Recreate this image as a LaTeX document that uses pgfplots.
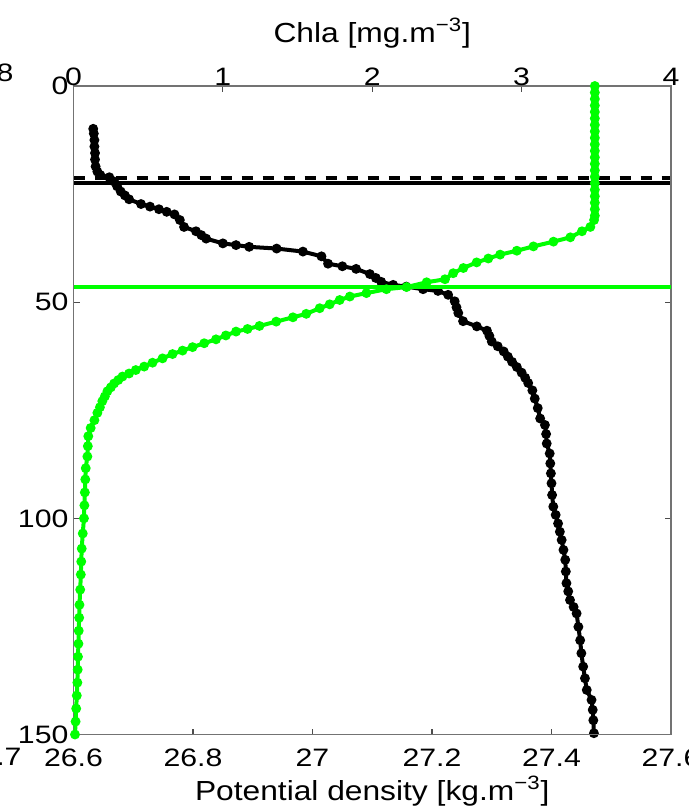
\documentclass[border=0pt]{standalone}
\usepackage{fontspec}
\setmainfont[FakeStretch=1.15]{Liberation Sans}
\newfontfamily\tickfont[FakeStretch=1.2]{Liberation Sans}
\usepackage{pgfplots}
\usepackage{pgfplotstable}
\pgfplotsset{compat=1.18}
\definecolor{mgreen}{RGB}{0,255,0}

\pgfplotstableread{
depth rho
9.9 26.633
11.0 26.634
12.5 26.635
14.0 26.635
15.5 26.636
17.0 26.636
18.6 26.637
19.8 26.640
20.6 26.645
21.1 26.660
22.1 26.668
23.2 26.673
24.4 26.679
25.3 26.686
26.2 26.693
27.3 26.713
27.9 26.728
28.5 26.743
29.1 26.756
29.7 26.769
31.0 26.778
32.6 26.785
33.6 26.805
34.5 26.814
35.3 26.822
36.4 26.850
36.8 26.872
37.2 26.894
37.6 26.940
38.3 26.984
39.4 27.015
41.1 27.026
41.7 27.050
42.3 27.073
43.5 27.096
44.4 27.106
45.3 27.115
46.0 27.135
46.4 27.157
47.0 27.185
47.4 27.210
48.3 27.227
49.8 27.238
51.2 27.241
52.5 27.244
54.4 27.252
55.6 27.275
56.6 27.292
57.8 27.296
59.1 27.300
60.2 27.310
61.4 27.320
62.6 27.327
63.8 27.334
65.0 27.342
66.3 27.350
67.5 27.356
68.7 27.361
70.4 27.368
72.3 27.372
74.5 27.377
76.9 27.381
78.4 27.389
80.5 27.391
82.7 27.392
85.0 27.397
87.3 27.398
89.6 27.399
91.9 27.400
94.6 27.401
97.3 27.403
99.2 27.407
101.2 27.411
103.1 27.414
105.0 27.417
107.3 27.420
109.6 27.423
112.3 27.424
115.0 27.425
116.9 27.428
118.9 27.431
120.5 27.437
122.0 27.442
125.1 27.445
128.2 27.448
131.2 27.450
134.3 27.453
137.0 27.456
139.7 27.459
142.0 27.467
144.3 27.469
146.7 27.470
149.7 27.471
}\rhotab

\pgfplotstableread{
depth chla
0.0 3.49
1.5 3.49
3.0 3.49
4.5 3.49
6.0 3.49
7.5 3.49
9.0 3.49
10.5 3.49
12.0 3.49
13.5 3.49
15.0 3.49
16.5 3.49
18.0 3.49
19.5 3.49
21.0 3.49
22.5 3.49
24.0 3.49
25.5 3.49
27.0 3.49
28.5 3.49
30.0 3.49
31.0 3.485
32.6 3.46
33.6 3.404
35.0 3.326
36.0 3.213
37.1 3.079
38.1 2.968
39.0 2.856
39.9 2.777
40.8 2.699
42.1 2.610
43.3 2.542
44.7 2.487
45.4 2.364
46.5 2.230
47.0 2.095
47.9 1.961
48.7 1.850
49.5 1.782
50.5 1.715
51.4 1.648
52.7 1.558
53.5 1.469
54.5 1.357
55.5 1.245
56.2 1.165
56.8 1.088
57.7 1.020
58.6 0.954
59.5 0.875
60.4 0.797
61.2 0.730
62.0 0.663
63.0 0.596
64.0 0.529
64.9 0.473
65.7 0.417
66.5 0.372
67.2 0.328
68.0 0.300
68.8 0.272
69.7 0.250
70.6 0.227
71.8 0.210
72.9 0.193
74.3 0.177
75.6 0.160
77.3 0.140
79.1 0.115
81.0 0.099
83.3 0.096
85.7 0.093
88.4 0.082
91.0 0.079
94.0 0.076
97.0 0.073
100.0 0.070
103.5 0.062
107.0 0.055
110.0 0.052
113.0 0.049
116.5 0.045
120.0 0.040
123.0 0.038
126.0 0.035
129.0 0.033
132.0 0.030
135.0 0.028
138.0 0.026
141.0 0.022
144.0 0.018
147.0 0.014
150.0 0.010
}\chltab

\begin{document}
\begin{tikzpicture}
\pgfplotsset{
  common/.style={
    width=298.75pt, height=324.25pt, scale only axis,
    y dir=reverse, ymin=0, ymax=150,
    axis line style={black!55, line width=0.6pt},
    tick style={black!70, line width=0.6pt},
    major tick length=3pt,
    tick align=inside,
    ticklabel style={font=\tickfont\fontsize{12.6}{14}\selectfont},
    label style={font=\fontsize{13.8}{16}\selectfont},
    /pgf/number format/assume math mode=true,
  }
}
\begin{axis}[common, name=ax,
  xmin=26.6, xmax=27.6,
  xtick={26.6,26.8,27,27.2,27.4,27.6},
  xticklabels={26.6,26.8,27,27.2,27.4,27.6},
  xtick pos=lower, xticklabel pos=lower,
  ytick={0,50,100,150}, yticklabels={0,50,100,150},
  ytick pos=both, yticklabel pos=left,
  xticklabel style={yshift=-3.6pt},
  yticklabel style={xshift=1pt},
  xlabel={Potential density [kg.m\textsuperscript{\char"2212 3}]},
  xlabel style={at={(axis description cs:0.5,0)}, anchor=base, yshift=-32.75pt},
]
\addplot[black, line width=1.8pt, dash pattern=on 5.5pt off 5pt, forget plot] coordinates {(26.6,21.3) (27.6,21.3)};
\addplot[black, line width=1.8pt, forget plot] coordinates {(26.6,22.5) (27.6,22.5)};
\addplot[black, line width=2pt, mark=*, mark size=1.4pt, mark options={fill=black}] table[x=rho, y=depth] {\rhotab};
\end{axis}
\begin{axis}[common,
  xmin=0, xmax=4,
  xtick={0,1,2,3,4}, xticklabels={0,1,2,3,4},
  xtick pos=upper, xticklabel pos=upper,
  ytick=\empty,
  xticklabel style={yshift=-3.3pt},
  xlabel={Chla [mg.m\textsuperscript{\char"2212 3}]},
  xlabel style={at={(axis description cs:0.5,1)}, anchor=base, yshift=22pt},
]
\addplot[mgreen, line width=1.85pt, forget plot] coordinates {(0,46.5) (4,46.5)};
\addplot[mgreen, line width=2pt, mark=*, mark size=1.4pt, mark options={fill=mgreen}] table[x=chla, y=depth] {\chltab};
\end{axis}
\node[anchor=south east, inner sep=0pt, font=\tickfont\fontsize{12.6}{14}\selectfont] at ([shift={(-29.8pt,2pt)}]ax.north west) {8};
\node[anchor=north east, inner sep=0pt, font=\tickfont\fontsize{12.6}{14}\selectfont] at ([shift={(-25.8pt,-6.6pt)}]ax.south west) {.7};
\pgfresetboundingbox
\useasboundingbox ([shift={(-36.75pt,-37.25pt)}]ax.south west) rectangle ([shift={(307.75pt,367.25pt)}]ax.south west);
\end{tikzpicture}
\end{document}
